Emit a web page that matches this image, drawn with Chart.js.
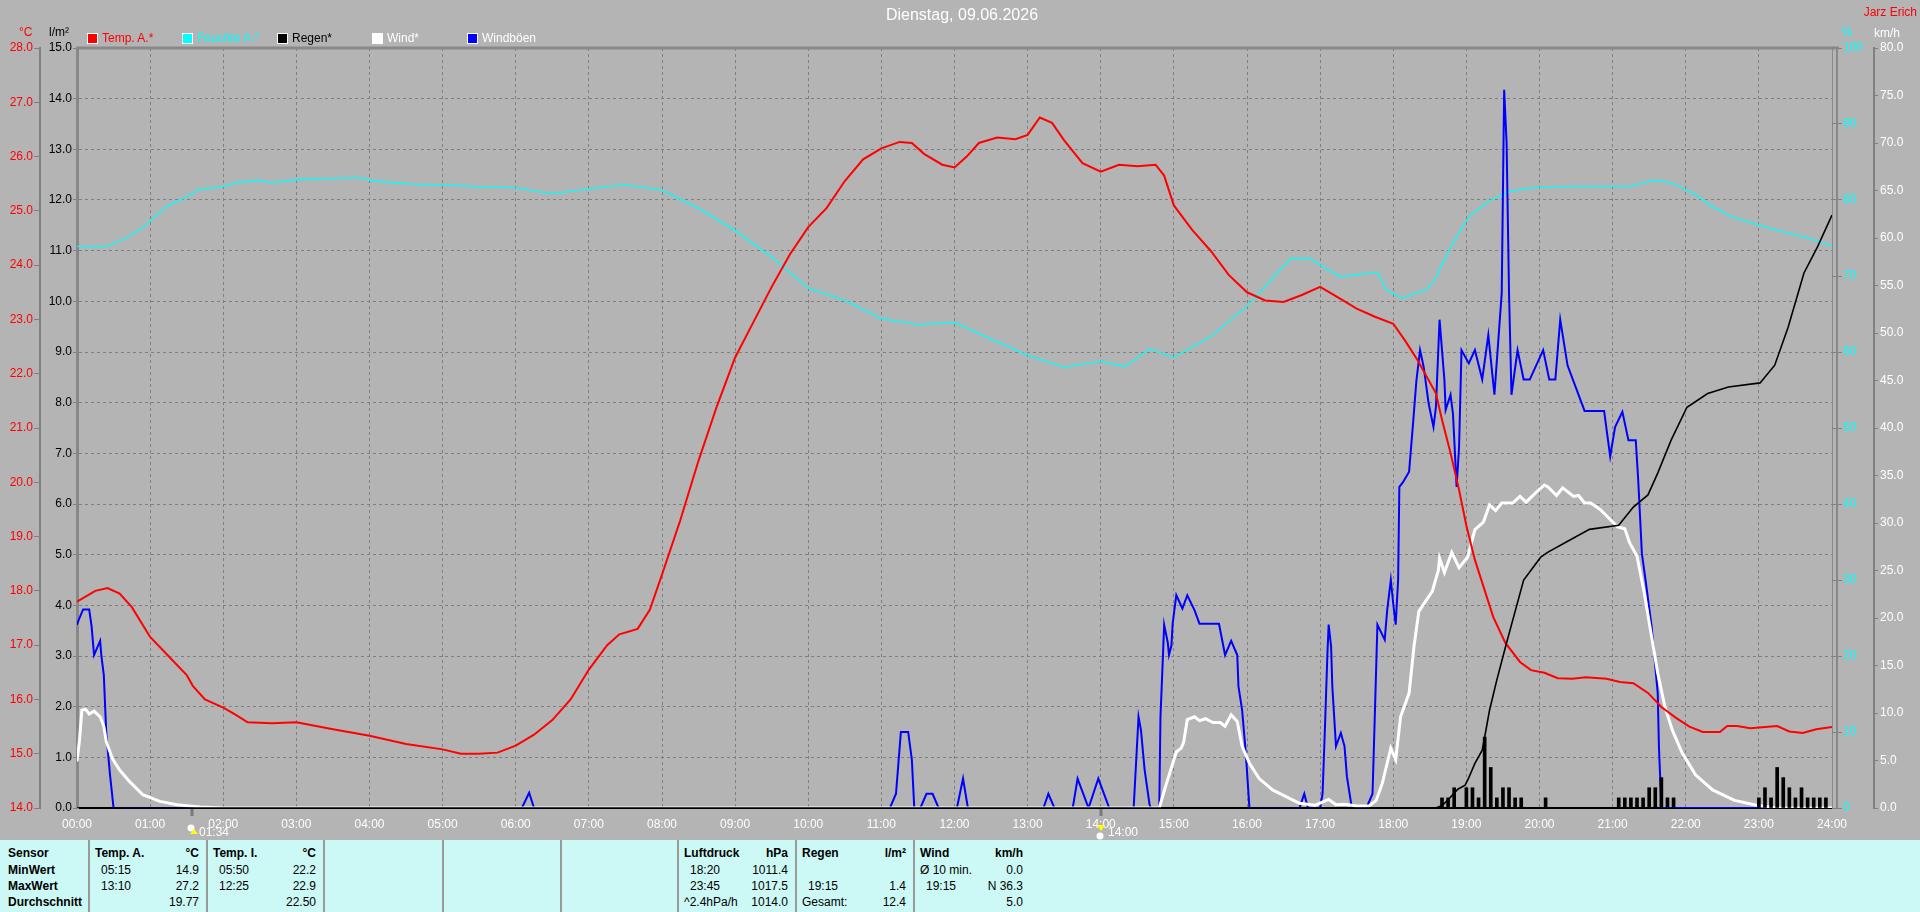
<!DOCTYPE html>
<html><head><meta charset="utf-8">
<script src="https://cdn.jsdelivr.net/npm/chart.js@4.4.1/dist/chart.umd.min.js"></script>
<style>
html,body{margin:0;padding:0;background:#b4b4b4;}
body{width:1920px;height:912px;position:relative;overflow:hidden;font-family:"Liberation Sans",Arial,sans-serif;}
#cv{position:absolute;left:0;top:0;}
.t{position:absolute;white-space:nowrap;font-size:12px;line-height:14px;}
.sq{position:absolute;width:9px;height:9px;border:1px solid #fff;}
#panel{position:absolute;left:0;top:840px;width:1920px;height:72px;background:#ccf9f5;}
.sep{position:absolute;top:0;width:2px;height:72px;background:#9a9a9a;}
.c{position:absolute;white-space:nowrap;font-size:12px;line-height:14px;color:#000;}
.b{font-weight:bold;}
.r{text-align:right;}
</style></head><body>
<canvas id="cv" width="1920" height="840"></canvas>
<div id="overlay"></div>
<div id="panel"></div>
<script>
// ---------------- DATA ----------------
const hourTicks = ["00:00","01:00","02:00","03:00","04:00","05:00","06:00","07:00","08:00","09:00","10:00","11:00","12:00","13:00","14:00","15:00","16:00","17:00","18:00","19:00","20:00","21:00","22:00","23:00","24:00"];

const tempTimes = ["00:00","00:15","00:25","00:35","00:45","01:00","01:15","01:30","01:35","01:45","02:00","02:10","02:20","02:40","03:00","03:30","04:00","04:30","05:00","05:15","05:30","05:45","06:00","06:15","06:30","06:45","07:00","07:15","07:25","07:40","07:50","08:00","08:15","08:30","08:45","09:00","09:15","09:30","09:45","10:00","10:15","10:30","10:45","11:00","11:15","11:25","11:35","11:50","12:00","12:10","12:20","12:35","12:50","13:00","13:10","13:20","13:30","13:45","14:00","14:15","14:30","14:45","14:52","15:00","15:15","15:30","15:45","16:00","16:15","16:30","16:45","17:00","17:15","17:30","17:45","18:00","18:10","18:20","18:35","18:40","18:47","18:54","19:00","19:07","19:22","19:32","19:44","19:53","20:04","20:15","20:27","20:38","20:55","21:06","21:17","21:29","21:40","21:52","22:03","22:14","22:28","22:34","22:42","22:53","23:15","23:25","23:36","23:47","24:00"];
const tempValues = [17.8,18.0,18.05,17.95,17.7,17.15,16.8,16.45,16.25,16.0,15.85,15.72,15.58,15.56,15.58,15.45,15.33,15.18,15.08,15.0,15.0,15.02,15.15,15.35,15.62,16.0,16.55,17.0,17.2,17.3,17.65,18.3,19.3,20.4,21.4,22.3,22.95,23.6,24.2,24.7,25.05,25.55,25.95,26.15,26.27,26.25,26.05,25.85,25.8,26.0,26.25,26.35,26.32,26.4,26.72,26.62,26.3,25.88,25.72,25.85,25.82,25.85,25.65,25.1,24.65,24.27,23.82,23.5,23.35,23.32,23.45,23.6,23.4,23.2,23.05,22.92,22.6,22.25,21.64,21.15,20.54,19.86,19.2,18.57,17.52,17.04,16.69,16.54,16.49,16.39,16.38,16.41,16.38,16.32,16.3,16.12,15.86,15.66,15.5,15.4,15.4,15.51,15.51,15.47,15.51,15.41,15.38,15.45,15.49];

const humTimes = ["00:00","00:25","00:40","00:55","01:05","01:15","01:30","01:40","02:00","02:10","02:30","02:40","02:55","03:05","03:25","03:45","03:55","04:00","04:10","04:35","05:00","05:30","06:00","06:30","07:00","07:30","08:00","08:30","09:00","09:30","10:00","10:30","11:00","11:30","12:00","12:30","13:00","13:30","14:00","14:20","14:40","15:00","15:30","16:00","16:26","16:36","16:52","17:04","17:17","17:47","17:54","18:07","18:27","18:34","18:47","19:02","19:17","19:34","19:54","20:21","21:14","21:34","21:48","22:08","22:21","22:38","22:58","23:18","23:38","24:00"];
const humValues = [73.9,73.9,75,76.5,78,79.3,80.4,81.4,81.75,82.3,82.6,82.3,82.6,82.7,82.8,82.9,82.9,82.6,82.4,82.1,82.0,81.75,81.6,80.8,81.5,82.0,81.3,78.9,76.0,72.5,68.4,66.8,64.4,63.6,63.9,61.7,59.6,58.0,58.8,58.1,60.4,59.3,62.0,66.0,70.6,72.3,72.3,71.0,69.9,70.5,68.2,67.1,68.2,69.5,73.8,77.8,79.7,81.1,81.6,81.8,81.8,82.6,82.3,80.7,79.2,77.8,76.8,75.9,75.1,74.0];

const rainSumTimes = ["00:00","18:35","18:40","18:45","18:53","18:59","19:02","19:07","19:13","19:16","19:19","19:25","19:33","19:41","19:47","20:01","20:07","20:22","20:41","21:05","21:17","21:29","21:37","21:48","22:01","22:18","22:35","23:01","23:13","23:24","23:37","23:48","24:00"];
const rainSumValues = [0,0,0.05,0.16,0.37,0.45,0.6,0.88,1.14,1.53,1.93,2.53,3.26,3.97,4.5,4.95,5.05,5.25,5.5,5.58,5.94,6.18,6.61,7.26,7.91,8.18,8.31,8.39,8.74,9.49,10.56,11.07,11.7];

const rainBarTimes = ["18:40","18:45","18:50","19:00","19:05","19:10","19:15","19:20","19:25","19:30","19:35","19:40","19:45","20:05","21:05","21:10","21:15","21:20","21:25","21:30","21:35","21:40","21:45","21:50","23:00","23:05","23:10","23:15","23:20","23:25","23:30","23:35","23:40","23:45","23:50","23:55"];
const rainBarValues = [0.2,0.2,0.4,0.4,0.4,0.2,1.4,0.8,0.2,0.4,0.4,0.2,0.2,0.2,0.2,0.2,0.2,0.2,0.2,0.4,0.4,0.6,0.2,0.2,0.2,0.4,0.2,0.8,0.6,0.4,0.2,0.4,0.2,0.2,0.2,0.2];

const windTimes = ["00:00","00:02","00:04","00:07","00:10","00:14","00:19","00:22","00:24","00:29","00:35","00:43","00:54","01:08","01:22","01:41","02:00","14:48","14:53","15:02","15:06","15:08","15:11","15:17","15:21","15:26","15:32","15:38","15:42","15:47","15:52","15:56","16:02","16:10","16:21","16:32","16:43","16:56","17:07","17:13","17:20","17:30","17:40","17:46","17:51","17:58","18:02","18:06","18:13","18:17","18:21","18:32","18:37","18:38","18:42","18:48","18:54","19:01","19:07","19:14","19:19","19:24","19:29","19:38","19:44","19:49","19:57","20:04","20:07","20:14","20:19","20:28","20:32","20:37","20:42","20:50","20:57","21:04","21:10","21:14","21:20","21:26","21:32","21:37","21:43","21:49","21:57","22:08","22:22","22:40","22:58","23:15","24:00"];
const windValues = [4.9,7.1,10.3,10.4,9.9,10.2,9.6,8.6,7.0,5.2,4.0,2.8,1.4,0.7,0.35,0.1,0,0,2.2,5.9,6.3,6.9,9.3,9.6,9.2,9.4,9.0,9.0,8.6,9.8,9.1,6.5,4.7,3.1,1.9,1.2,0.5,0.3,0.9,0.35,0.4,0.2,0.2,0.8,2.6,6.3,5.1,9.6,12.1,17.0,20.7,22.8,25.0,26.3,24.8,26.9,25.3,26.4,29.3,30.1,31.9,31.3,32.1,32.1,32.8,32.2,33.2,34.0,33.8,32.9,33.7,32.8,32.9,32.1,32.1,31.4,30.5,29.6,29.4,27.9,26.5,22.6,18.0,14.2,10.6,8.2,5.8,3.5,1.9,0.8,0.3,0,0];

const gustTimes = ["00:00","00:02","00:05","00:10","00:12","00:14","00:16","00:19","00:20","00:22","00:24","00:27","00:30","06:05","06:11","06:15","11:07","11:12","11:16","11:22","11:25","11:27","11:32","11:37","11:42","11:47","12:02","12:07","12:11","13:13","13:17","13:22","13:37","13:41","13:50","13:58","14:07","14:27","14:31","14:33","14:36","14:40","14:41","14:48","14:49","14:51","14:52","14:55","14:56","14:58","14:59","15:02","15:07","15:11","15:17","15:21","15:37","15:42","15:47","15:52","15:53","15:56","15:59","16:02","16:43","16:47","16:50","17:00","17:02","17:04","17:06","17:07","17:09","17:10","17:13","17:17","17:20","17:22","17:26","17:38","17:43","17:45","17:47","17:53","17:55","17:58","18:00","18:02","18:04","18:05","18:08","18:13","18:16","18:19","18:22","18:25","18:29","18:33","18:35","18:38","18:40","18:42","18:43","18:47","18:49","18:52","18:54","18:56","19:02","19:07","19:13","19:18","19:23","19:29","19:31","19:33","19:35","19:37","19:42","19:47","19:52","20:03","20:08","20:13","20:17","20:23","20:37","20:53","20:58","21:02","21:08","21:13","21:19","21:21","21:24","21:27","21:32","21:37","21:38","21:39","21:40","24:00"];
const gustValues = [19.3,20.0,20.9,20.9,19.1,16.1,16.7,17.6,16.0,14.0,7.9,3.6,0,0,1.6,0,0,1.5,8.0,8.0,5.1,0,0,1.5,1.5,0,0,3.1,0,0,1.5,0,0,3.1,0,3.1,0,0,9.6,8.2,4.0,0.4,0,0,9.6,15.9,19.3,17.4,16.1,17.1,19.4,22.4,21.0,22.4,20.8,19.4,19.4,16.1,17.6,16.1,12.8,10.3,5.8,0,0,1.5,0,0,1.5,8.6,16.3,19.3,17.0,12.8,6.5,7.9,6.5,3.3,0,0,1.5,10.3,19.3,17.7,20.8,24.0,21.5,19.3,24.0,33.8,34.3,35.4,40.1,45.0,48.2,46.4,42.6,40.1,42.2,51.4,48.2,45.0,41.9,43.5,41.5,33.8,38.0,48.2,46.8,48.2,45.1,49.8,43.5,54.2,75.6,70.0,54.2,43.5,48.2,45.1,45.1,48.2,45.1,45.1,51.4,46.6,41.8,41.8,37.0,40.1,41.7,38.7,38.7,34.5,26.8,24.0,19.1,12.1,6.4,3.3,0,0];

const moonTimes = ["01:34","14:00"];
const moonKinds = ["auf","unter"];

const legendLabels = ["Temp. A.*","Feuchte A.*","Regen*","Wind*","Windböen"];
const legendColors = ["#ff0000","#00ffff","#000000","#ffffff","#0000ff"];
const legendTextColors = ["#ff0000","#00ffff","#000000","#ffffff","#ffffff"];

const tableHeaders = [["Sensor",""],["Temp. A.","°C"],["Temp. I.","°C"],["",""],["",""],["",""],["Luftdruck","hPa"],["Regen","l/m²"],["Wind","km/h"]];
const tableRows = [
  [["MinWert",""],["05:15","14.9"],["05:50","22.2"],["",""],["",""],["",""],["18:20","1011.4"],["",""],["Ø 10 min.","0.0"]],
  [["MaxWert",""],["13:10","27.2"],["12:25","22.9"],["",""],["",""],["",""],["23:45","1017.5"],["19:15","1.4"],["19:15","N 36.3"]],
  [["Durchschnitt",""],["","19.77"],["","22.50"],["",""],["",""],["",""],["^2.4hPa/h","1014.0"],["Gesamt:","12.4"],["","5.0"]]
];

// ---------------- HELPERS ----------------
const toMin = s => { const p = s.split(':'); return (+p[0])*60 + (+p[1]); };
const pts = (t, v) => t.map((s, i) => ({x: toMin(s), y: v[i]}));
const hhmm = m => String(Math.floor(m/60)).padStart(2,'0') + ':' + String(m%60).padStart(2,'0');
const FONT = "'Liberation Sans', Arial, sans-serif";
Chart.defaults.font.family = FONT;
Chart.defaults.font.size = 12;

const framePlugin = {
  id: 'frame',
  afterDraw(chart) {
    const {ctx, chartArea: a, scales} = chart;
    ctx.save();
    ctx.strokeStyle = '#888';
    ctx.lineWidth = 3;
    ctx.beginPath(); ctx.moveTo(a.left - 1, a.top); ctx.lineTo(a.right + 7, a.top); ctx.stroke();
    ctx.lineWidth = 2;
    ctx.beginPath(); ctx.moveTo(a.right + 5, a.top); ctx.lineTo(a.right + 5, a.bottom); ctx.stroke();
    // moon markers
    moonTimes.forEach((t, i) => {
      const x = Math.round(scales.x.getPixelForValue(toMin(t)));
      const y0 = a.bottom;
      ctx.strokeStyle = '#7a7a7a'; ctx.lineWidth = 3;
      ctx.beginPath(); ctx.moveTo(x, y0 + 1); ctx.lineTo(x, y0 + 8); ctx.stroke();
      // icon
      ctx.fillStyle = '#ffffff';
      ctx.beginPath(); ctx.arc(x - 1, y0 + (moonKinds[i] === 'auf' ? 20 : 28), 3.5, 0, Math.PI*2); ctx.fill();
      ctx.fillStyle = '#ffff00';
      ctx.beginPath();
      if (moonKinds[i] === 'auf') { ctx.moveTo(x + 2, y0 + 21); ctx.lineTo(x - 2, y0 + 26); ctx.lineTo(x + 6, y0 + 26); }
      else { ctx.moveTo(x - 4, y0 + 17); ctx.lineTo(x + 4, y0 + 17); ctx.lineTo(x, y0 + 23); }
      ctx.closePath(); ctx.fill();
      ctx.fillStyle = '#ffffff';
      ctx.font = '12px ' + FONT;
      ctx.textBaseline = 'middle'; ctx.textAlign = 'left';
      ctx.fillText(t, x + 7, y0 + 25);
    });
    ctx.restore();
  }
};

const chart = new Chart(document.getElementById('cv'), {
  type: 'line',
  data: {
    datasets: [
      {type:'bar', label:'Regen', data: pts(rainBarTimes, rainBarValues), yAxisID:'yR', backgroundColor:'#000', borderWidth:0, barThickness:3, order:0},
      {label:'Regen*', data: pts(rainSumTimes, rainSumValues), yAxisID:'yR', borderColor:'#000', borderWidth:1.6, pointRadius:0, tension:0, order:1},
      {label:'Temp. A.*', data: pts(tempTimes, tempValues), yAxisID:'yT', borderColor:'#ff0000', borderWidth:2, pointRadius:0, tension:0, order:2},
      {label:'Wind*', data: pts(windTimes, windValues), yAxisID:'yW', borderColor:'#ffffff', borderWidth:3, pointRadius:0, tension:0, order:3},
      {label:'Windböen', data: pts(gustTimes, gustValues), yAxisID:'yW', borderColor:'#0000ff', borderWidth:2, pointRadius:0, tension:0, order:4},
      {label:'Feuchte A.*', data: pts(humTimes, humValues), yAxisID:'yH', borderColor:'#00ffff', borderWidth:1.3, pointRadius:0, tension:0, order:5}
    ]
  },
  options: {
    responsive: false,
    animation: false,
    devicePixelRatio: 1,
    layout: {padding: {top: 48, left: 0, right: 0, bottom: 0}},
    plugins: {legend: {display: false}, tooltip: {enabled: false}, title: {display: false}},
    scales: {
      x: {
        type: 'linear', position: 'bottom', min: 0, max: 1440, offset: false,
        afterBuildTicks: s => { s.ticks = hourTicks.map(t => ({value: toMin(t)})); },
        ticks: {color: '#ffffff', padding: 9, maxRotation: 0, autoSkip: false, callback: v => hhmm(v)},
        grid: {color: '#7f7f7f', lineWidth: 1, drawTicks: false, offset: false},
        border: {display: true, color: '#000', width: 2, dash: [3, 3]},
        afterFit: s => { s.height = 32; }
      },
      yT: {
        type: 'linear', position: 'left', weight: 1, min: 14, max: 28,
        ticks: {stepSize: 1, color: '#ff0000', padding: 1, callback: v => v.toFixed(1)},
        grid: {drawOnChartArea: false, drawTicks: true, tickLength: 6, tickColor: '#808080', tickWidth: 1},
        border: {display: true, color: '#808080', width: 2},
        afterFit: s => { s.width = 40; }
      },
      yR: {
        type: 'linear', position: 'left', weight: 0, min: 0, max: 15,
        ticks: {stepSize: 1, color: '#000000', padding: 1, callback: v => v.toFixed(1)},
        grid: {color: '#7f7f7f', lineWidth: 1, drawTicks: true, tickLength: 4, tickColor: '#808080'},
        border: {display: true, color: '#888', width: 3, dash: [3, 3]},
        afterFit: s => { s.width = 37; }
      },
      yH: {
        type: 'linear', position: 'right', weight: 0, min: 0, max: 100,
        ticks: {stepSize: 10, color: '#00ffff', padding: 1, callback: v => String(v)},
        grid: {drawOnChartArea: false, drawTicks: true, tickLength: 10, tickColor: '#808080'},
        border: {display: true, color: '#888', width: 1},
        afterFit: s => { s.width = 42; }
      },
      yW: {
        type: 'linear', position: 'right', weight: 1, min: 0, max: 80,
        ticks: {stepSize: 5, color: '#ffffff', padding: 2, callback: v => v.toFixed(1)},
        grid: {drawOnChartArea: false, drawTicks: true, tickLength: 4, tickColor: '#808080'},
        border: {display: true, color: '#808080', width: 2},
        afterFit: s => { s.width = 46; }
      }
    }
  },
  plugins: [framePlugin]
});

// ---------------- HTML TEXT (title, legend, units, table) ----------------
const ov = document.getElementById('overlay');
function addText(txt, x, y, color, size, extra) {
  const d = document.createElement('div');
  d.className = 't'; d.textContent = txt;
  d.style.left = x + 'px'; d.style.top = y + 'px'; d.style.color = color;
  if (size) { d.style.fontSize = size + 'px'; d.style.lineHeight = (size + 2) + 'px'; }
  if (extra) Object.assign(d.style, extra);
  ov.appendChild(d); return d;
}
addText('Dienstag, 09.06.2026', 0, 6, '#ffffff', 16, {width: '1924px', textAlign: 'center'});
addText('Jarz Erich', 1717, 5, '#ff0000', 12, {width: '200px', textAlign: 'right'});
addText('°C', 19, 25, '#ff0000', 12);
addText('l/m²', 49, 25, '#000000', 12);
addText('%', 1842, 25, '#00ffff', 12);
addText('km/h', 1874, 26, '#ffffff', 12);
const legX = [87, 182, 277, 372, 467];
legendLabels.forEach((l, i) => {
  const s = document.createElement('div');
  s.className = 'sq'; s.style.left = legX[i] + 'px'; s.style.top = '33px'; s.style.background = legendColors[i];
  ov.appendChild(s);
  addText(l, legX[i] + 15, 31, legendTextColors[i], 12);
});

const panel = document.getElementById('panel');
const sepX = [88, 206, 323, 442, 560, 677, 795, 913];
sepX.forEach(x => { const d = document.createElement('div'); d.className = 'sep'; d.style.left = x + 'px'; panel.appendChild(d); });
const colLeft = [0, 88, 206, 323, 442, 560, 677, 795, 913];
const colRight = [88, 206, 323, 442, 560, 677, 795, 913, 1030];
const rowTop = [6, 23, 39, 55];
function cell(txt, x, y, bold, right, w) {
  if (!txt) return;
  const d = document.createElement('div');
  d.className = 'c' + (bold ? ' b' : '') + (right ? ' r' : '');
  d.textContent = txt;
  d.style.top = y + 'px';
  if (right) { d.style.left = (x - 200) + 'px'; d.style.width = '200px'; } else d.style.left = x + 'px';
  panel.appendChild(d);
}
tableHeaders.forEach((h, c) => {
  const l = c === 0 ? 8 : colLeft[c] + 7;
  cell(h[0], l, rowTop[0], true, false);
  cell(h[1], colRight[c] - 7, rowTop[0], true, true);
});
tableRows.forEach((row, r) => {
  row.forEach((cv, c) => {
    if (c === 0) { cell(cv[0], 8, rowTop[r + 1], true, false); return; }
    const isWord = /[A-Za-zØ^]/.test(cv[0]);
    const l = colLeft[c] + (isWord ? 7 : 13);
    cell(cv[0], l, rowTop[r + 1], false, false);
    cell(cv[1], colRight[c] - 7, rowTop[r + 1], false, true);
  });
});
</script>
</body></html>
